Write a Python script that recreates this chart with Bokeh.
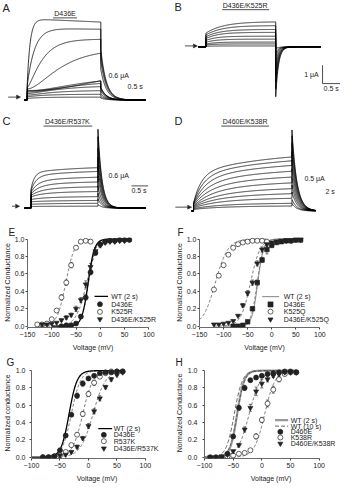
import numpy as np
from bokeh.plotting import figure
from bokeh.layouts import column, row
from bokeh.models import (Range1d, Arrow, NormalHead, FixedTicker,
                          PrintfTickFormatter, Whisker, TeeHead, ColumnDataSource)
from bokeh.embed import file_html
from bokeh.resources import INLINE
from bokeh.core.properties import value

FONT = "Liberation Sans"
INK = "#222222"

A_end = [2.42, 2.21, 1.91, 1.61, 1.06, 0.76, 0.61, 0.45, 0.30, 0.18, 0.09]
A_inst = [0.50, 0.45, 0.40, 0.35, 0.30, 0.28, 0.25, 0.20, 0.15, 0.10, 0.05]
A_tau = [0.08, 0.20, 0.35, 0.70, 1.50, 1.20, 1.00, 0.80, 0.60, 0.50, 0.40]
A_pow = [1, 1, 1.5, 2, 3, 2, 2, 1.5, 1.5, 1, 1]
A_droop = [0.05, 0.02, 0, 0, 0, 0, 0, 0, 0, 0, 0]

B_end = [1.37, 1.16, 0.95, 0.79, 0.58, 0.42, 0.26, 0.16, 0.05]
B_inst = [0.75, 0.65, 0.55, 0.45, 0.35, 0.25, 0.15, 0.10, 0.03]
B_tau = [0.50, 0.45, 0.40, 0.35, 0.30, 0.30, 0.25, 0.25, 0.20]

C_end = [1.27, 1.15, 0.97, 0.82, 0.67, 0.52, 0.36, 0.24, 0.15, 0.06]
C_inst = [0.60, 0.55, 0.50, 0.45, 0.40, 0.35, 0.27, 0.20, 0.12, 0.05]
C_tau = [0.10, 0.15, 0.20, 0.25, 0.30, 0.30, 0.30, 0.30, 0.30, 0.30]

D_end = [1.40, 1.30, 1.18, 1.03, 0.88, 0.73, 0.58, 0.45, 0.33, 0.20, 0.13]
D_inst = [0.20, 0.20, 0.18, 0.17, 0.15, 0.13, 0.12, 0.10, 0.08, 0.06, 0.04]
D_tau = [0.8, 1.0, 1.2, 1.4, 1.6, 1.8, 2.0, 2.0, 2.0, 2.0, 2.0]

# step (s), tail ratio, tail tau (s), slow fraction, slow tau (s), record start, record end
A_kin = dict(T=2.0, tail=0.65, tail_tau=0.15, sf=0.0, ts=1.0, pre=-0.08, post=3.22)
B_kin = dict(T=2.0, tail=-2.0, tail_tau=0.08, sf=0.0, ts=1.0, pre=-0.22, post=3.29)
C_kin = dict(T=2.0, tail=1.95, tail_tau=0.12, sf=0.12, ts=1.5, pre=-0.2, post=3.43)
D_kin = dict(T=10.0, tail=1.5, tail_tau=0.5, sf=0.3, ts=8.0, pre=-0.2, post=12.4)

# ---------------- conductance-voltage data ----------------
E_v_d = [-80, -70, -60, -50, -40, -30, -20, -10, 0, 10, 20, 30, 40, 50, 60]
E_g_d = [0.0, 0.01, 0.01, 0.03, 0.11, 0.33, 0.62, 0.84, 0.94, 0.97, 0.98, 0.98, 0.99, 0.99, 0.99]
E_e_d = [0, 0, 0, 0, 0.02, 0.03, 0.03, 0.02, 0.01, 0, 0, 0, 0, 0, 0]
E_v_k = [-130, -120, -110, -100, -90, -80, -70, -60, -50, -40, -30, -20]
E_g_k = [0.02, 0.02, 0.03, 0.08, 0.18, 0.33, 0.50, 0.70, 0.90, 0.97, 0.98, 0.97]
E_e_k = [0, 0, 0, 0.01, 0.02, 0.03, 0.03, 0.03, 0.02, 0, 0, 0]
E_v_dk = [-120, -110, -100, -90, -80, -70, -60, -50, -40, -30, -20, -10, 0, 10, 20, 30, 40, 50]
E_g_dk = [0.02, 0.02, 0.03, 0.04, 0.07, 0.10, 0.13, 0.20, 0.30, 0.48, 0.68, 0.86, 0.93, 0.96, 0.97, 0.97, 0.98, 0.98]
E_e_dk = [0, 0, 0, 0, 0.01, 0.02, 0.02, 0.03, 0.03, 0.04, 0.04, 0.04, 0.03, 0.02, 0.01, 0, 0, 0]
E_fit = {"WT": (-25, 6.5), "d": (-24, 7), "k": (-71, 9), "dk": (-28, 11)}

F_v_d = [-80, -70, -60, -50, -40, -30, -20, -10, 0, 10, 20, 30, 40, 50, 60]
F_g_d = [0.0, 0.0, 0.01, 0.05, 0.20, 0.50, 0.76, 0.88, 0.93, 0.96, 0.97, 0.98, 0.98, 0.99, 0.99]
F_e_d = [0, 0, 0, 0.01, 0.02, 0.03, 0.03, 0.05, 0.03, 0.01, 0, 0, 0, 0, 0]
F_v_k = [-120, -110, -100, -90, -80, -70, -60, -50, -40, -30, -20, -10]
F_g_k = [0.42, 0.58, 0.70, 0.82, 0.90, 0.94, 0.96, 0.97, 0.98, 0.98, 0.98, 0.97]
F_e_k = [0, 0.02, 0.02, 0.02, 0.01, 0, 0, 0, 0, 0, 0, 0]
F_v_dk = [-120, -110, -100, -90, -80, -70, -60, -50, -40, -30, -20, -10, 0, 10, 20, 30, 40, 50, 60]
F_g_dk = [0.02, 0.02, 0.03, 0.04, 0.06, 0.12, 0.24, 0.38, 0.50, 0.72, 0.88, 0.94, 0.96, 0.97, 0.98, 0.98, 0.98, 0.99, 0.99]
F_e_dk = [0, 0, 0, 0, 0, 0.01, 0.02, 0.03, 0.03, 0.03, 0.03, 0.02, 0.01, 0, 0, 0, 0, 0, 0]
F_fit = {"WT": (-29, 6), "d": (-30, 6.5), "k": (-117, 13), "dk": (-44, 10)}

G_v_d = [-80, -70, -60, -50, -40, -30, -20, -10, 0, 10, 20, 30, 40, 50, 60]
G_g_d = [0.0, 0.0, 0.01, 0.08, 0.25, 0.49, 0.71, 0.85, 0.91, 0.94, 0.97, 0.98, 0.98, 0.99, 0.99]
G_e_d = [0, 0, 0, 0.01, 0.02, 0.02, 0.03, 0.03, 0.02, 0.01, 0, 0, 0, 0, 0]
G_v_r = [-80, -70, -60, -50, -40, -30, -20, -10, 0, 10, 20, 30, 40, 50, 60]
G_g_r = [0.0, 0.0, 0.01, 0.02, 0.06, 0.14, 0.26, 0.50, 0.73, 0.86, 0.93, 0.97, 0.99, 0.99, 0.99]
G_e_r = [0, 0, 0, 0, 0.01, 0.02, 0.02, 0.03, 0.03, 0.03, 0.02, 0.01, 0, 0, 0]
G_v_dr = [-70, -60, -50, -40, -30, -20, -10, 0, 10, 20, 30, 40, 50, 60]
G_g_dr = [0.0, 0.01, 0.02, 0.03, 0.06, 0.12, 0.22, 0.36, 0.53, 0.68, 0.81, 0.90, 0.95, 0.98]
G_e_dr = [0, 0, 0, 0, 0.01, 0.02, 0.02, 0.03, 0.03, 0.03, 0.02, 0.02, 0.01, 0]
G_fit = {"WT": (-34, 7), "d": (-30, 8), "r": (-10, 9), "dr": (8, 11)}

H_v_d = [-90, -80, -70, -60, -50, -40, -30, -20, -10, 0, 10, 20, 30, 40, 50, 60]
H_g_d = [0.0, 0.0, 0.0, 0.04, 0.24, 0.57, 0.80, 0.89, 0.92, 0.94, 0.96, 0.97, 0.98, 0.99, 0.99, 0.98]
H_e_d = [0, 0, 0, 0, 0.02, 0.03, 0.03, 0.02, 0.02, 0.01, 0, 0, 0, 0, 0, 0]
H_v_k = [-60, -50, -40, -30, -20, -10, 0, 10, 20, 30, 40, 50, 60]
H_g_k = [0.01, 0.02, 0.04, 0.05, 0.08, 0.24, 0.43, 0.62, 0.78, 0.90, 0.96, 0.98, 0.98]
H_e_k = [0, 0, 0, 0.01, 0.01, 0.03, 0.03, 0.04, 0.04, 0.03, 0.01, 0, 0]
H_v_dk = [-90, -80, -70, -60, -50, -40, -30, -20, -10, 0, 10, 20, 30, 40, 50, 60]
H_g_dk = [0.0, 0.0, 0.01, 0.03, 0.07, 0.14, 0.32, 0.57, 0.76, 0.85, 0.90, 0.94, 0.96, 0.98, 0.98, 0.98]
H_e_dk = [0, 0, 0, 0, 0.01, 0.02, 0.03, 0.04, 0.05, 0.05, 0.03, 0.02, 0.01, 0, 0, 0]
H_fit = {"WT2": (-43, 6), "WT10": (-48, 7), "d": (-43, 6.5), "k": (5, 9), "dk": (-22, 10)}


# ---------------- helpers ----------------
def trace_panel(box, t0x, pps, base, ppu, w, h):
    bx, by, bw, bh = box
    p = figure(width=w, height=h,
               x_range=Range1d((bx - t0x) / pps, (bx + bw - t0x) / pps),
               y_range=Range1d((base - (by + bh)) / ppu, (base - by) / ppu),
               x_axis_type=None, y_axis_type=None, output_backend="svg",
               toolbar_location=None, min_border=0, outline_line_color=None)

    def d(x, y):
        return (x - t0x) / pps, (base - y) / ppu
    return p, d


def family(p, end, inst, tau, kin, pw=None, droop=None):
    T = kin["T"]
    xs, ys = [], []
    for i in range(len(end)):
        pwi = 1 if pw is None else pw[i]
        dr = 0 if droop is None else droop[i]
        t_on = np.linspace(0, T, 400)
        target = end[i] * (1 - kin["sf"]) / (1 - dr)
        i_on = inst[i] + (target - inst[i]) * (1 - np.exp(-t_on / tau[i])) ** pwi * (1 - dr * t_on / T)
        if kin["sf"] > 0:
            i_on = i_on + end[i] * kin["sf"] * (1 - np.exp(-t_on / kin["ts"])) / (1 - np.exp(-T / kin["ts"]))
        t_off = np.linspace(T, kin["post"], 300)
        i_off = kin["tail"] * i_on[-1] * np.exp(-(t_off - T) / kin["tail_tau"])
        xs.append(np.concatenate([[kin["pre"], 0.0], t_on, t_off]))
        ys.append(np.concatenate([[0.0, 0.0], i_on, i_off]))
    p.multi_line(xs, ys, line_color="black", line_width=0.8)


def txt(p, x, y, s, size="7px", align="left"):
    p.text(x=[x], y=[y], text=[s], text_font=value(FONT), text_font_size=size,
           text_align=align, text_baseline="middle", text_color=INK)


def seg(p, a, b, w=0.8):
    p.line([a[0], b[0]], [a[1], b[1]], line_color=INK, line_width=w)


def arrow(p, a, b):
    p.add_layout(Arrow(x_start=a[0], y_start=a[1], x_end=b[0], y_end=b[1],
                       line_color=INK, line_width=0.8,
                       end=NormalHead(size=4, fill_color=INK, line_color=INK, line_width=0.5)))


def gv_panel(w, h, xr, xb, yr, xticks, bl, br, bt, bb, ylabel, lab_std, ax_std, letter):
    p = figure(width=w, height=h, x_range=Range1d(*xr), y_range=Range1d(*yr),
               output_backend="svg", toolbar_location=None, outline_line_color=None,
               min_border_left=bl, min_border_right=br, min_border_top=bt, min_border_bottom=bb)
    p.title.text = letter
    p.title.text_font = FONT
    p.title.text_font_size = "10px"
    p.title.text_font_style = "normal"
    p.title.text_color = INK
    p.title.align = "left"
    p.title.standoff = 0
    p.title.offset = -(bl - 1)
    p.xgrid.visible = False
    p.ygrid.visible = False
    p.xaxis.ticker = FixedTicker(ticks=xticks)
    p.yaxis.ticker = FixedTicker(ticks=[0, 0.2, 0.4, 0.6, 0.8, 1.0])
    p.yaxis.formatter = PrintfTickFormatter(format="%.1f")
    p.yaxis.bounds = (0, 1)
    p.xaxis.bounds = xb
    for ax in (p.xaxis[0], p.yaxis[0]):
        ax.axis_line_color = "#444444"
        ax.axis_line_width = 0.8
        ax.major_tick_line_color = "#444444"
        ax.major_tick_out = 2
        ax.major_tick_in = 0
        ax.minor_tick_line_color = None
        ax.major_label_text_font = FONT
        ax.major_label_text_font_size = "7px"
        ax.major_label_text_color = INK
        ax.axis_label_text_font = FONT
        ax.axis_label_text_font_size = "7px"
        ax.axis_label_text_font_style = "normal"
        ax.axis_label_text_color = INK
    p.xaxis.axis_label = "Voltage (mV)"
    p.yaxis.axis_label = ylabel
    p.xaxis.major_label_standoff = 2
    p.xaxis.axis_label_standoff = 4
    p.yaxis.major_label_standoff = lab_std
    p.yaxis.axis_label_standoff = ax_std
    return p


def pts(p, v, g, e, marker, fill, size=5):
    ev = [a for a, c in zip(v, e) if c > 0]
    up = [b + c for b, c in zip(g, e) if c > 0]
    lo = [b - c for b, c in zip(g, e) if c > 0]
    if ev:
        wsrc = ColumnDataSource(dict(v=ev, up=up, lo=lo))
        p.add_layout(Whisker(source=wsrc, base="v", upper="up", lower="lo",
                             line_color=INK, line_width=0.6,
                             upper_head=TeeHead(size=3, line_color=INK, line_width=0.6),
                             lower_head=TeeHead(size=3, line_color=INK, line_width=0.6)))
    p.scatter(v, g, marker=marker, size=size, fill_color=fill, line_color=INK, line_width=0.7)


def fit(p, par, v0, v1, **kw):
    vh, k = par
    v = np.linspace(v0, v1, 240)
    p.line(v, 1.0 / (1.0 + np.exp((vh - v) / k)), **kw)


def legend(p, entries, xl, xm, xt, ys):
    for (label, kind, style), y in zip(entries, ys):
        if kind == "line":
            p.line([xl[0], xl[1]], [y, y], **style)
        else:
            p.scatter([xm], [y], marker=kind, size=5, line_color=INK, line_width=0.7, **style)
        txt(p, xt, y, label, size="7px")


DASH = dict(line_color="#444444", line_width=0.7, line_dash="3 2")

# ---------------- panel A ----------------
pA, dA = trace_panel((0, 0, 180, 118), 28, 38.5, 103, 33, 172, 114)
family(pA, A_end, A_inst, A_tau, A_kin, A_pow, A_droop)
txt(pA, *dA(2, 8), "A", size="11px")
txt(pA, *dA(67.5, 13.5), "D436E", align="center")
seg(pA, dA(55, 18), dA(80, 18))
txt(pA, *dA(113, 78), "0.6 \u03bcA")
txt(pA, *dA(133, 89), "0.5 s")
arrow(pA, dA(8, 100), dA(21, 100))

# ---------------- panel B ----------------
pB, dB = trace_panel((180, 0, 181, 118), 215, 36.5, 48, 19, 173, 114)
family(pB, B_end, B_inst, B_tau, B_kin)
txt(pB, *dB(182, 7), "B", size="11px")
txt(pB, *dB(256, 5.5), "D436E/K525R", align="center")
seg(pB, dB(232, 9.5), dB(281, 9.5))
arrow(pB, dB(193, 47), dB(206, 47))
bx0, by0 = dB(337, 86)
seg(pB, (bx0, by0), (bx0, by0 + 1.0))
seg(pB, (bx0, by0), (bx0 + 0.5, by0))
txt(pB, *dB(333, 77), "1 \u03bcA", align="right")
txt(pB, *dB(346, 91), "0.5 s", align="center")

# ---------------- panel C ----------------
pC, dC = trace_panel((0, 118, 180, 114), 32, 35, 215, 33, 172, 110)
family(pC, C_end, C_inst, C_tau, C_kin)
txt(pC, *dC(2, 125), "C", size="11px")
txt(pC, *dC(70, 125), "D436E/R537K", align="center")
seg(pC, dC(45, 130), dC(96, 130))
arrow(pC, dC(12, 213), dC(20, 213))
txt(pC, *dC(113, 181), "0.6 \u03bcA")
cx0, cy0 = dC(137, 192)
seg(pC, (cx0, cy0), (cx0 + 0.5, cy0))
txt(pC, *dC(137, 197), "0.5 s")

# ---------------- panel D ----------------
pD, dD = trace_panel((180, 118, 181, 114), 202, 10.3, 218, 40, 173, 110)
family(pD, D_end, D_inst, D_tau, D_kin)
txt(pD, *dD(182, 125), "D", size="11px")
txt(pD, *dD(256, 125), "D460E/K538R", align="center")
seg(pD, dD(231, 130), dD(281, 130))
arrow(pD, dD(183, 214), dD(200, 214))
txt(pD, *dD(318, 184), "0.5 \u03bcA")
txt(pD, *dD(340, 198), "2 s")

# ---------------- panel E ----------------
pE = gv_panel(172, 130, (-150, 120), (-150, 100), (-0.015, 1.0175),
              [-150, -100, -50, 0, 50, 100], 20, 14, 12, 27,
              "Normalized Conductance", 1, 1, "E")
fit(pE, E_fit["k"], -130, -20, **DASH)
fit(pE, E_fit["dk"], -120, 50, **DASH)
fit(pE, E_fit["d"], -80, 60, **DASH)
fit(pE, E_fit["WT"], -100, 60, line_color="black", line_width=1.3)
pts(pE, E_v_k, E_g_k, E_e_k, "circle", "white")
pts(pE, E_v_dk, E_g_dk, E_e_dk, "inverted_triangle", INK)
pts(pE, E_v_d, E_g_d, E_e_d, "circle", INK)
legend(pE, [("WT (2 s)", "line", dict(line_color="black", line_width=1.3)),
            ("D436E", "circle", dict(fill_color=INK)),
            ("K525R", "circle", dict(fill_color="white")),
            ("D436E/K525R", "inverted_triangle", dict(fill_color=INK))],
       (-11.9, 16.0), -0.7, 22.6, [0.343, 0.252, 0.164, 0.080])

# ---------------- panel F ----------------
pF = gv_panel(173, 130, (-150, 120), (-150, 100), (-0.015, 1.0175),
              [-150, -100, -50, 0, 50, 100], 23, 16, 12, 27,
              "Normalized Conductance", 1, 1, "F")
fit(pF, F_fit["k"], -150, -10, **DASH)
fit(pF, F_fit["dk"], -120, 60, **DASH)
fit(pF, F_fit["d"], -80, 60, **DASH)
fit(pF, F_fit["WT"], -100, 60, line_color="#777777", line_width=0.9)
pts(pF, F_v_k, F_g_k, F_e_k, "circle", "white")
pts(pF, F_v_dk, F_g_dk, F_e_dk, "inverted_triangle", INK)
pts(pF, F_v_d, F_g_d, F_e_d, "square", INK, size=4.5)
legend(pF, [("WT (2 s)", "line", dict(line_color="#777777", line_width=0.9)),
            ("D436E", "square", dict(fill_color=INK)),
            ("K525Q", "circle", dict(fill_color="white")),
            ("D436E/K525Q", "inverted_triangle", dict(fill_color=INK))],
       (-19.8, 15.4), -2.5, 25.0, [0.339, 0.25, 0.167, 0.078])

# ---------------- panel G ----------------
pG = gv_panel(172, 130, (-100, 130), (-100, 100), (-0.015, 1.036),
              [-100, -50, 0, 50, 100], 26, 10, 12, 24,
              "Normalized conductance", 4, 2, "G")
fit(pG, G_fit["r"], -80, 60, **DASH)
fit(pG, G_fit["dr"], -70, 60, **DASH)
fit(pG, G_fit["d"], -80, 60, **DASH)
fit(pG, G_fit["WT"], -100, 60, line_color="black", line_width=1.3)
pts(pG, G_v_r, G_g_r, G_e_r, "circle", "white")
pts(pG, G_v_dr, G_g_dr, G_e_dr, "inverted_triangle", INK)
pts(pG, G_v_d, G_g_d, G_e_d, "circle", INK)
legend(pG, [("WT (2 s)", "line", dict(line_color="black", line_width=1.3)),
            ("D436E", "circle", dict(fill_color=INK)),
            ("R537K", "circle", dict(fill_color="white")),
            ("D436E/R537K", "inverted_triangle", dict(fill_color=INK))],
       (17.3, 41.6), 27.0, 44.3, [0.33, 0.258, 0.185, 0.102])

# ---------------- panel H ----------------
pH = gv_panel(173, 130, (-100, 132), (-100, 100), (-0.015, 1.036),
              [-100, -50, 0, 50, 100], 30, 8, 12, 24,
              "Normalized Conductance", 5, 2, "H")
fit(pH, H_fit["k"], -60, 60, **DASH)
fit(pH, H_fit["dk"], -90, 60, **DASH)
fit(pH, H_fit["WT2"], -100, 60, line_color="#999999", line_width=2.2)
fit(pH, H_fit["WT10"], -100, 60, line_color="#555555", line_width=0.9, line_dash="4 2")
fit(pH, H_fit["d"], -90, 60, **DASH)
pts(pH, H_v_k, H_g_k, H_e_k, "circle", "white")
pts(pH, H_v_dk, H_g_dk, H_e_dk, "inverted_triangle", INK)
pts(pH, H_v_d, H_g_d, H_e_d, "circle", INK)
legend(pH, [("WT (2 s)", "line", dict(line_color="#999999", line_width=2.2)),
            ("WT (10 s)", "line", dict(line_color="#555555", line_width=0.9, line_dash="4 2")),
            ("D460E", "circle", dict(fill_color=INK)),
            ("K538R", "circle", dict(fill_color="white")),
            ("D460E/K538R", "inverted_triangle", dict(fill_color=INK))],
       (23.0, 46.0), 32.3, 50.3, [0.428, 0.359, 0.293, 0.228, 0.157])

layout = column(row(pA, pB), row(pC, pD), row(pE, pF), row(pG, pH))
open("out.html", "w").write(file_html(layout, INLINE))
